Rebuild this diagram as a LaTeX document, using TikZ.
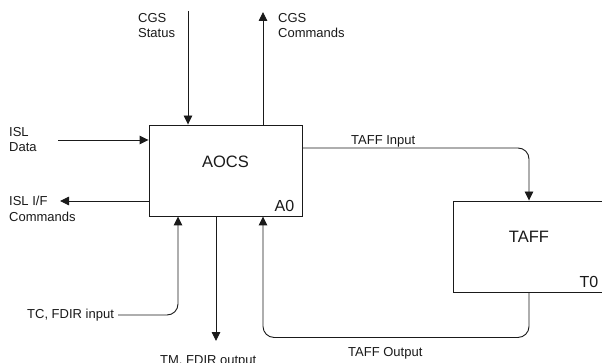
\documentclass[tikz,border=0pt]{standalone}
\usepackage{fontspec}
\setmainfont{Liberation Sans}
\usepackage{tikz}
\usetikzlibrary{positioning,arrows.meta,calc}
\definecolor{ink}{HTML}{1A1A1A}
\tikzset{
  block/.style={draw=ink,line width=0.9pt,fill=white,minimum width=153pt,minimum height=91pt,inner sep=0pt},
  title/.style={font=\fontsize{16.5}{18}\selectfont,text=ink,inner sep=0pt},
  tag/.style={font=\fontsize{16}{18}\selectfont,text=ink,inner sep=0pt,anchor=base east},
  lbl/.style={font=\fontsize{13}{15.5}\selectfont,text=ink,align=left,inner sep=0pt,anchor=north west},
  flow/.style={-{Triangle[length=9pt,width=8.5pt]},draw=ink,line width=0.9pt},
  curvedflow/.style={flow,rounded corners=11pt}
}
\begin{document}
\begin{tikzpicture}[x=1pt,y=-1pt]
  \useasboundingbox (0,0) rectangle (602,363);
  \fill[white] (0,0) rectangle (602,363);
  \clip (0,0) rectangle (602,363);
  % boxes
  \node[block] (aocs) at (225.5,170.5) {};
  \node[title] (aocsname) at ([yshift=9pt]aocs.center) {AOCS};
  \node[tag] (aocsid) at ([xshift=-8pt,yshift=5pt]aocs.south east) {A0};
  \node[block,minimum width=152pt] (taff) at (529,246.5) {};
  \node[title] (taffname) at ([yshift=10pt]taff.center) {TAFF};
  \node[tag] (taffid) at ([xshift=-7pt,yshift=5pt]taff.south east) {T0};
  % labels
  \node[lbl] (cgsstatus) at (138,13) {CGS\\Status};
  \node[lbl] (cgscmd) at (278,13) {CGS\\Commands};
  \node[lbl] (isldata) at (9,127) {ISL\\Data};
  \node[lbl] (islcmd) at (9,196) {ISL I/F\\Commands};
  \node[lbl,anchor=west] (tcin) at (27,315) {TC, FDIR input};
  \node[lbl] (tmout) at (160,355) {TM, FDIR output};
  \node[lbl] (taffin) at (351,135) {TAFF Input};
  \node[lbl] (taffout) at (348,347) {TAFF Output};
  % free ends
  \coordinate (cgsin) at (188,11);
  \coordinate (cgsout) at (263,12);
  \coordinate (islin) at (58,140);
  \coordinate (islout) at (60,201);
  \coordinate (tmend) at (216,341);
  % connectors
  \draw[flow] (cgsin) -- (cgsin |- aocs.north);
  \draw[flow] (cgsout |- aocs.north) -- (cgsout);
  \draw[flow] (islin) -- (islin -| aocs.west);
  \draw[flow] (islout -| aocs.west) -- (islout);
  \draw[curvedflow] ([xshift=4pt]tcin.east) -| ([xshift=-47.5pt]aocs.south);
  \draw[flow] (tmend |- aocs.south) -- (tmend);
  \draw[curvedflow] ([yshift=22.5pt]aocs.east) -| (taff.north);
  \draw[curvedflow] (taff.south) -- ++(0,45) -| ([xshift=37.5pt]aocs.south);
\end{tikzpicture}
\end{document}
